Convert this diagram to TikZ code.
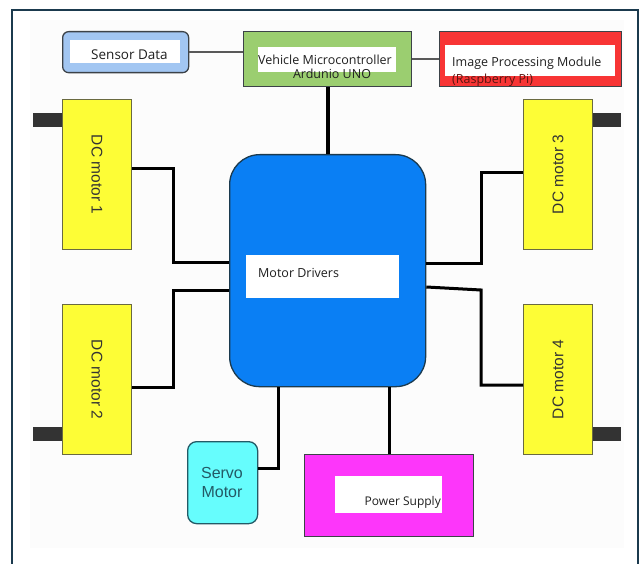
\documentclass[tikz,border=0pt]{standalone}
\usepackage{fontspec}
\setmainfont{Open Sans}
\newfontfamily\arialfam{Liberation Sans}
\definecolor{framecol}{HTML}{1B3A4E}
\definecolor{edgecol}{HTML}{3C4248}
\definecolor{sensorfill}{HTML}{A2C6F2}
\definecolor{mcufill}{HTML}{9BCE70}
\definecolor{ipmfill}{HTML}{F83535}
\definecolor{drvfill}{HTML}{0A7FF4}
\definecolor{motorfill}{HTML}{FDFD36}
\definecolor{motoredge}{HTML}{6A6A40}
\definecolor{shaftcol}{HTML}{333333}
\definecolor{servofill}{HTML}{66FDFD}
\definecolor{servotext}{HTML}{235A66}
\definecolor{powerfill}{HTML}{FD36FA}
\definecolor{pitext}{HTML}{5A1510}
\begin{document}
\begin{tikzpicture}[x=1pt,y=-1pt,
  blk/.style={draw=edgecol, line width=1.3pt, inner sep=0pt, anchor=north west},
  whitebox/.style={fill=white, draw=none, inner sep=0pt, anchor=north west},
  motorbox/.style={blk, fill=motorfill, draw=motoredge, line width=1pt,
    minimum width=69pt, minimum height=150pt},
  shaft/.style={fill=shaftcol, draw=none, inner sep=0pt, anchor=north west,
    minimum width=29pt, minimum height=14pt},
  motorlabel/.style={font=\arialfam\fontsize{15.5}{18}\selectfont, text=black!80},
  lbl/.style={font=\fontsize{12.5}{15}\selectfont, text=black!88, inner sep=0pt},
  wire/.style={line width=3pt, black},
  link/.style={line width=1.4pt, draw=black!65}]
\useasboundingbox (0,0) rectangle (643,564);
% page frame and faint panel
\fill[black!1] (30,20) rectangle (624,548);
\draw[framecol, line width=2.5pt] (12,570) -- (12,10) -- (638,10) -- (638,570);

% top row
\node[blk, fill=sensorfill, rounded corners=6pt, minimum width=126pt, minimum height=41pt] (sensor) at (62,31) {};
\node[whitebox, minimum width=110pt, minimum height=23pt] (sensorw) at (70,40) {};
\node[lbl, font=\fontsize{13.5}{16}\selectfont] (sensort) at (129.5,55) {Sensor Data};

\node[blk, fill=mcufill, minimum width=168pt, minimum height=55pt] (mcu) at (243,31) {};
\node[whitebox, minimum width=138pt, minimum height=25pt] (mcuw) at (258,47) {};
\node[lbl] (mcut1) at (325,60) {Vehicle Microcontroller};
\node[lbl] (mcut2) at (332,74) {Ardunio UNO};

\node[blk, fill=ipmfill, minimum width=182pt, minimum height=55pt] (ipm) at (439,31) {};
\node[whitebox, minimum width=170pt, minimum height=31pt] (ipmw) at (445,45) {};
\node[lbl, anchor=west] (ipmt1) at (452,63) {Image Processing Module};
\node[lbl, anchor=west, text=pitext] (ipmt2) at (452,80) {(Raspberry Pi)};

% motor driver block
\node[blk, fill=drvfill, draw=framecol, rounded corners=30pt, minimum width=196pt, minimum height=232pt] (drv) at (229,154) {};
\node[whitebox, minimum width=153pt, minimum height=43pt] (drvw) at (246,255) {};
\node[lbl, anchor=west] (drvt) at (258,273) {Motor Drivers};

% DC motors with their shafts
\node[shaft] (s1) at (33,113) {};
\node[shaft] (s2) at (33,427) {};
\node[shaft] (s3) at (592,113) {};
\node[shaft] (s4) at (592,427) {};
\node[motorbox] (m1) at (62,99) {};
\node[motorbox] (m2) at (62,304) {};
\node[motorbox] (m3) at (523,99) {};
\node[motorbox] (m4) at (523,304) {};
\node[motorlabel, rotate=-90] at (m1.center) {DC motor 1};
\node[motorlabel, rotate=-90] at (m2.center) {DC motor 2};
\node[motorlabel, rotate=90] at (m3.center) {DC motor 3};
\node[motorlabel, rotate=90] at (m4.center) {DC motor 4};

% servo and power supply
\node[blk, fill=servofill, draw=servotext, rounded corners=9pt, minimum width=70pt, minimum height=82pt] (servo) at (187,441) {};
\node[font=\arialfam\fontsize{16}{19}\selectfont, text=servotext, align=center, inner sep=0pt] (servot) at (222,482) {Servo\\Motor};

\node[blk, fill=powerfill, minimum width=169pt, minimum height=82pt] (power) at (304,454) {};
\node[whitebox, minimum width=107pt, minimum height=37pt] (powerw) at (335,476) {};
\node[lbl, font=\fontsize{12}{14}\selectfont, anchor=east] (powert) at (441,502) {Power Supply};

% bend points of the motor wiring
\coordinate (b1) at (173,169);
\coordinate (b2) at (173,387);
\coordinate (b3) at (481,173);
\coordinate (b4) at (481,290);
\coordinate (b5) at (481,385);
\coordinate (b6) at (278,468);

% thin data links
\draw[link] (sensor.east) -- (sensor.east -| mcu.west);
\draw[link] (mcu.east) -- (ipm.west);

% power and signal wiring
\draw[wire, line width=4pt] (mcu.south) -- (mcu.south |- drv.north);
\draw[wire] (m1.east |- b1) -- (b1) |- (drv.west |- 0,263);
\draw[wire] (drv.west |- 0,291) -| (b2) -- (m2.east |- b2);
\draw[wire] (drv.east |- 0,264) -| (b3) -- (m3.west |- b3);
\draw[wire] (drv.east |- 0,287) -- (b4) -- (b5) -- (m4.west |- b5);
\draw[wire] (drv.south -| b6) -- (b6) -- (servo.east |- b6);
\draw[wire] (drv.south -| 389,0) -- (power.north -| 389,0);
\end{tikzpicture}
\end{document}
